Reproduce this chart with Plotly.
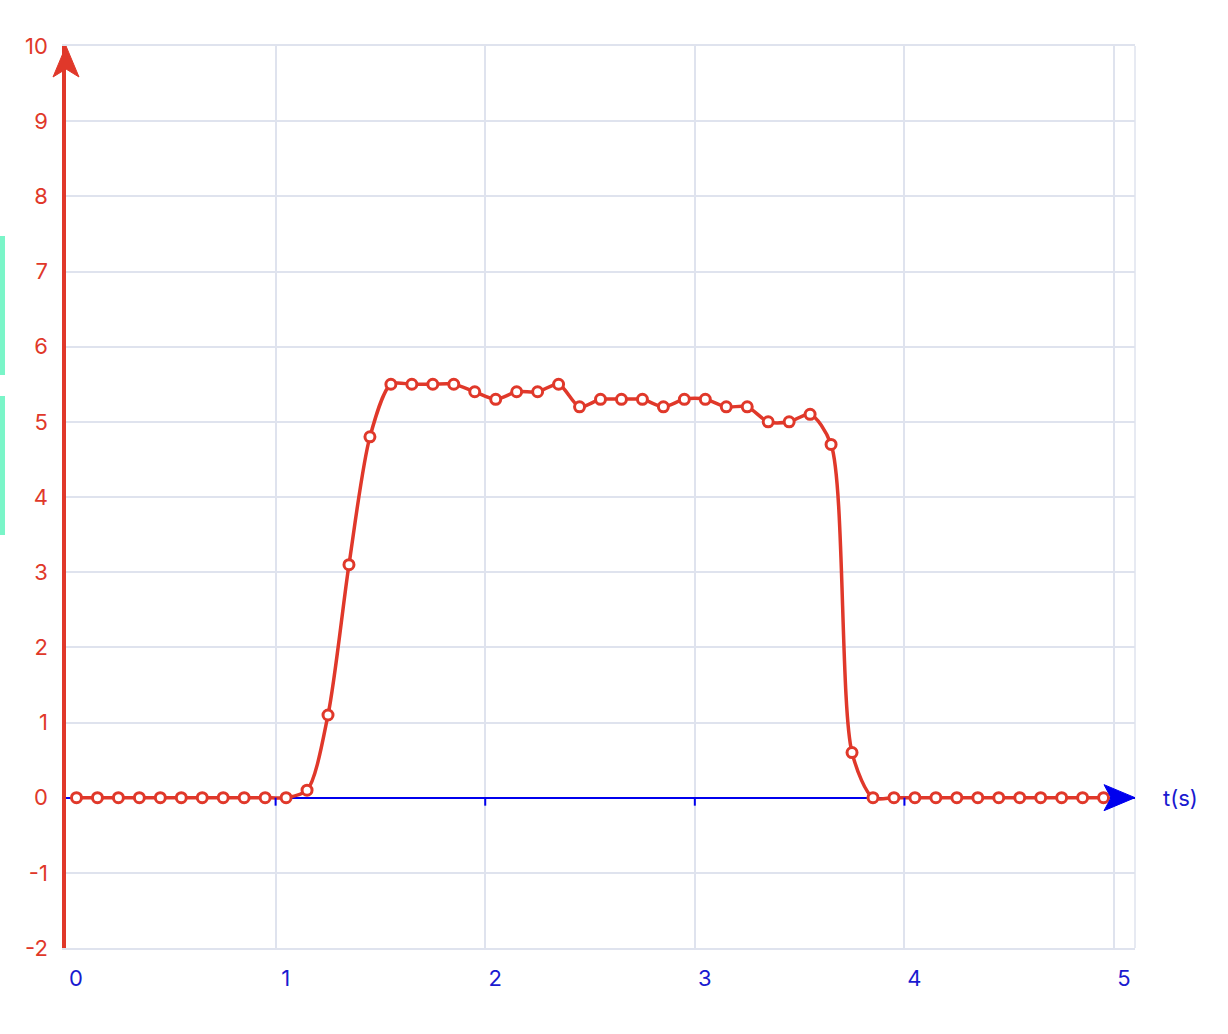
import plotly.graph_objects as go

t = [0.05, 0.15, 0.25, 0.35, 0.45, 0.55, 0.65, 0.75, 0.85, 0.95,
     1.05, 1.15, 1.25, 1.35, 1.45, 1.55, 1.65, 1.75, 1.85, 1.95,
     2.05, 2.15, 2.25, 2.35, 2.45, 2.55, 2.65, 2.75, 2.85, 2.95,
     3.05, 3.15, 3.25, 3.35, 3.45, 3.55, 3.65, 3.75, 3.85, 3.95,
     4.05, 4.15, 4.25, 4.35, 4.45, 4.55, 4.65, 4.75, 4.85, 4.95]
v = [0, 0, 0, 0, 0, 0, 0, 0, 0, 0,
     0, 0.1, 1.1, 3.1, 4.8, 5.5, 5.5, 5.5, 5.5, 5.4,
     5.3, 5.4, 5.4, 5.5, 5.2, 5.3, 5.3, 5.3, 5.2, 5.3,
     5.3, 5.2, 5.2, 5.0, 5.0, 5.1, 4.7, 0.6, 0, 0,
     0, 0, 0, 0, 0, 0, 0, 0, 0, 0]
x_ticks = [0, 1, 2, 3, 4, 5]
y_ticks = [-2, -1, 0, 1, 2, 3, 4, 5, 6, 7, 8, 9, 10]
x_label = "t(s)"

RED = "#e0382a"
BLUE = "#0000ee"
LBLUE = "#1a1ad0"
GRID = "#dfe3ee"
FONT = "Inter"

W, H = 1228, 1034
ML, MR, MT, MB = 66, 93, 46, 86
PW = W - ML - MR
PH = H - MT - MB

fig = go.Figure()
fig.add_trace(go.Scatter(
    x=t, y=v, mode="lines+markers",
    line=dict(color=RED, width=3.5, shape="spline", smoothing=0.8),
    marker=dict(symbol="circle", size=10, color="white", line=dict(color=RED, width=3)),
    showlegend=False, cliponaxis=False, hoverinfo="skip",
))

shapes = []
# x ticks on the axis line
for k in x_ticks[1:]:
    shapes.append(dict(type="line", xref="x", yref="y", ysizemode="pixel", yanchor=0,
                       x0=k, x1=k, y0=0, y1=-8, line=dict(color=BLUE, width=2)))
# right edge frame line
shapes.append(dict(type="line", xref="paper", yref="paper", x0=1, x1=1, y0=0, y1=1,
                   line=dict(color=GRID, width=1.5), layer="below"))
# y arrow head
shapes.append(dict(type="path", xref="paper", yref="paper", xsizemode="pixel", ysizemode="pixel",
                   xanchor=0, yanchor=1,
                   path="M -13,-31 L 0,0 L 13,-31 L 0,-23 Z",
                   fillcolor=RED, line=dict(color=RED, width=1)))
# x arrow head
shapes.append(dict(type="path", xref="paper", yref="y", xsizemode="pixel", ysizemode="pixel",
                   xanchor=1, yanchor=0,
                   path="M -31,13 L 0,0 L -31,-13 L -24,0 Z",
                   fillcolor=BLUE, line=dict(color=BLUE, width=1)))
# green side bars (page pixels 0-5)
for (top, bot) in [(236, 375), (396, 535)]:
    shapes.append(dict(type="rect", xref="paper", yref="paper",
                       x0=(0 - ML) / PW, x1=(5 - ML) / PW,
                       y0=(H - MB - bot) / PH, y1=(H - MB - top) / PH,
                       fillcolor="#7af5c8", line=dict(width=0)))

fig.update_layout(
    width=W, height=H,
    margin=dict(l=ML, r=MR, t=MT, b=MB),
    plot_bgcolor="white", paper_bgcolor="white",
    font=dict(family=FONT, size=22),
    shapes=shapes,
    xaxis=dict(range=[0, 5.1], tickvals=x_ticks, ticktext=[str(k) for k in x_ticks],
               showgrid=True, gridcolor=GRID, gridwidth=1.5, zeroline=False,
               showline=True, linecolor=GRID, linewidth=1.5, mirror=True,
               ticks="", tickfont=dict(color=LBLUE, size=22, family=FONT),
               ticklabelshift=10, ticklabelstandoff=10),
    yaxis=dict(range=[-2, 10], tickvals=y_ticks, ticktext=[str(k) for k in y_ticks],
               showgrid=True, gridcolor=GRID, gridwidth=1.5,
               zeroline=True, zerolinecolor=BLUE, zerolinewidth=2,
               showline=True, linecolor=RED, linewidth=3.5,
               ticks="", tickfont=dict(color=RED, size=22, family=FONT),
               ticklabelstandoff=10),
    annotations=[dict(x=1, y=0, xref="paper", yref="y", xanchor="left", yanchor="middle",
                      xshift=26, text=x_label, showarrow=False,
                      font=dict(color=LBLUE, size=22, family=FONT))],
)

fig.write_html("out.html", config={"displayModeBar": False},
               post_script="document.body.style.margin='0';")
